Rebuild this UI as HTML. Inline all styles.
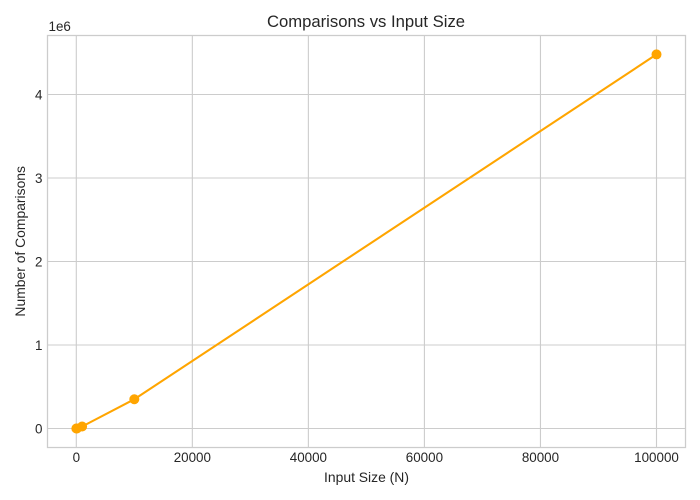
<!DOCTYPE html>
<html>
<head>
<meta charset="utf-8">
<style>
html,body{margin:0;padding:0;background:#fff;}
svg{display:block;}
text{font-family:"Liberation Sans",Arial,sans-serif;fill:#262626;}
</style>
</head>
<body>
<div id="chart"></div>
<script>
const inputSizes = [10, 100, 1000, 10000, 100000];
const comparisons = [30, 660, 24000, 350000, 4480000];
const xTicks = [0, 20000, 40000, 60000, 80000, 100000];
const yTicks = [0, 1000000, 2000000, 3000000, 4000000];
const yTickLabels = ['0', '1', '2', '3', '4'];
const chartTitle = 'Comparisons vs Input Size';
const xAxisTitle = 'Input Size (N)';
const yAxisTitle = 'Number of Comparisons';
const offsetLabel = '1e6';

const NS = 'http://www.w3.org/2000/svg';
const plot = {left: 47.5, right: 685.5, top: 35.5, bottom: 447.5};
const xAxis = v => 76.3 + v * (656.5 - 76.3) / 100000;
const yAxis = v => 428.5 - v * 83.5 / 1000000;

function make(tag, attrs, parent, content) {
  const el = document.createElementNS(NS, tag);
  for (const k in attrs) el.setAttribute(k, attrs[k]);
  if (content !== undefined) el.textContent = content;
  parent.appendChild(el);
  return el;
}

const svg = document.createElementNS(NS, 'svg');
svg.setAttribute('width', '700');
svg.setAttribute('height', '500');
svg.setAttribute('viewBox', '0 0 700 500');


document.getElementById('chart').appendChild(svg);

xTicks.forEach(t => {
  const x = xAxis(t);
  const line = make('line', {x1: x, x2: x, y1: plot.top, y2: plot.bottom, stroke: '#cccccc', 'stroke-width': 1.1}, svg);
  
  
  const label = make('text', {x: x, y: 462, 'text-anchor': 'middle', 'font-size': 13.4}, svg, String(t));
  
  
});

yTicks.forEach((t, i) => {
  const y = yAxis(t);
  const line = make('line', {x1: plot.left, x2: plot.right, y1: y, y2: y, stroke: '#cccccc', 'stroke-width': 1.1}, svg);
  
  
  const label = make('text', {x: 42.5, y: y + 5, 'text-anchor': 'end', 'font-size': 13.4}, svg, yTickLabels[i]);
  
  
});

const frame = make('rect', {x: plot.left, y: plot.top, width: plot.right - plot.left, height: plot.bottom - plot.top, fill: 'none', stroke: '#cccccc', 'stroke-width': 1.25}, svg);



const points = inputSizes.map((n, i) => xAxis(n) + ',' + yAxis(comparisons[i])).join(' ');
const series = make('polyline', {points: points, fill: 'none', stroke: '#ffa500', 'stroke-width': 2.08, 'stroke-linejoin': 'round', 'stroke-linecap': 'round'}, svg);



inputSizes.forEach((n, i) => {
  const dot = make('circle', {cx: xAxis(n), cy: yAxis(comparisons[i]), r: 5, fill: '#ffa500'}, svg);
  
  
});

const title = make('text', {x: 366, y: 27, 'text-anchor': 'middle', 'font-size': 16.67}, svg, chartTitle);



const xTitle = make('text', {x: 366.5, y: 482, 'text-anchor': 'middle', 'font-size': 13.9}, svg, xAxisTitle);



const yTitle = make('text', {x: 25, y: 241.3, 'text-anchor': 'middle', 'font-size': 13.9, transform: 'rotate(-90 25 241.3)'}, svg, yAxisTitle);



const offset = make('text', {x: 48.5, y: 31, 'font-size': 13.4}, svg, offsetLabel);


</script>
</body>
</html>
